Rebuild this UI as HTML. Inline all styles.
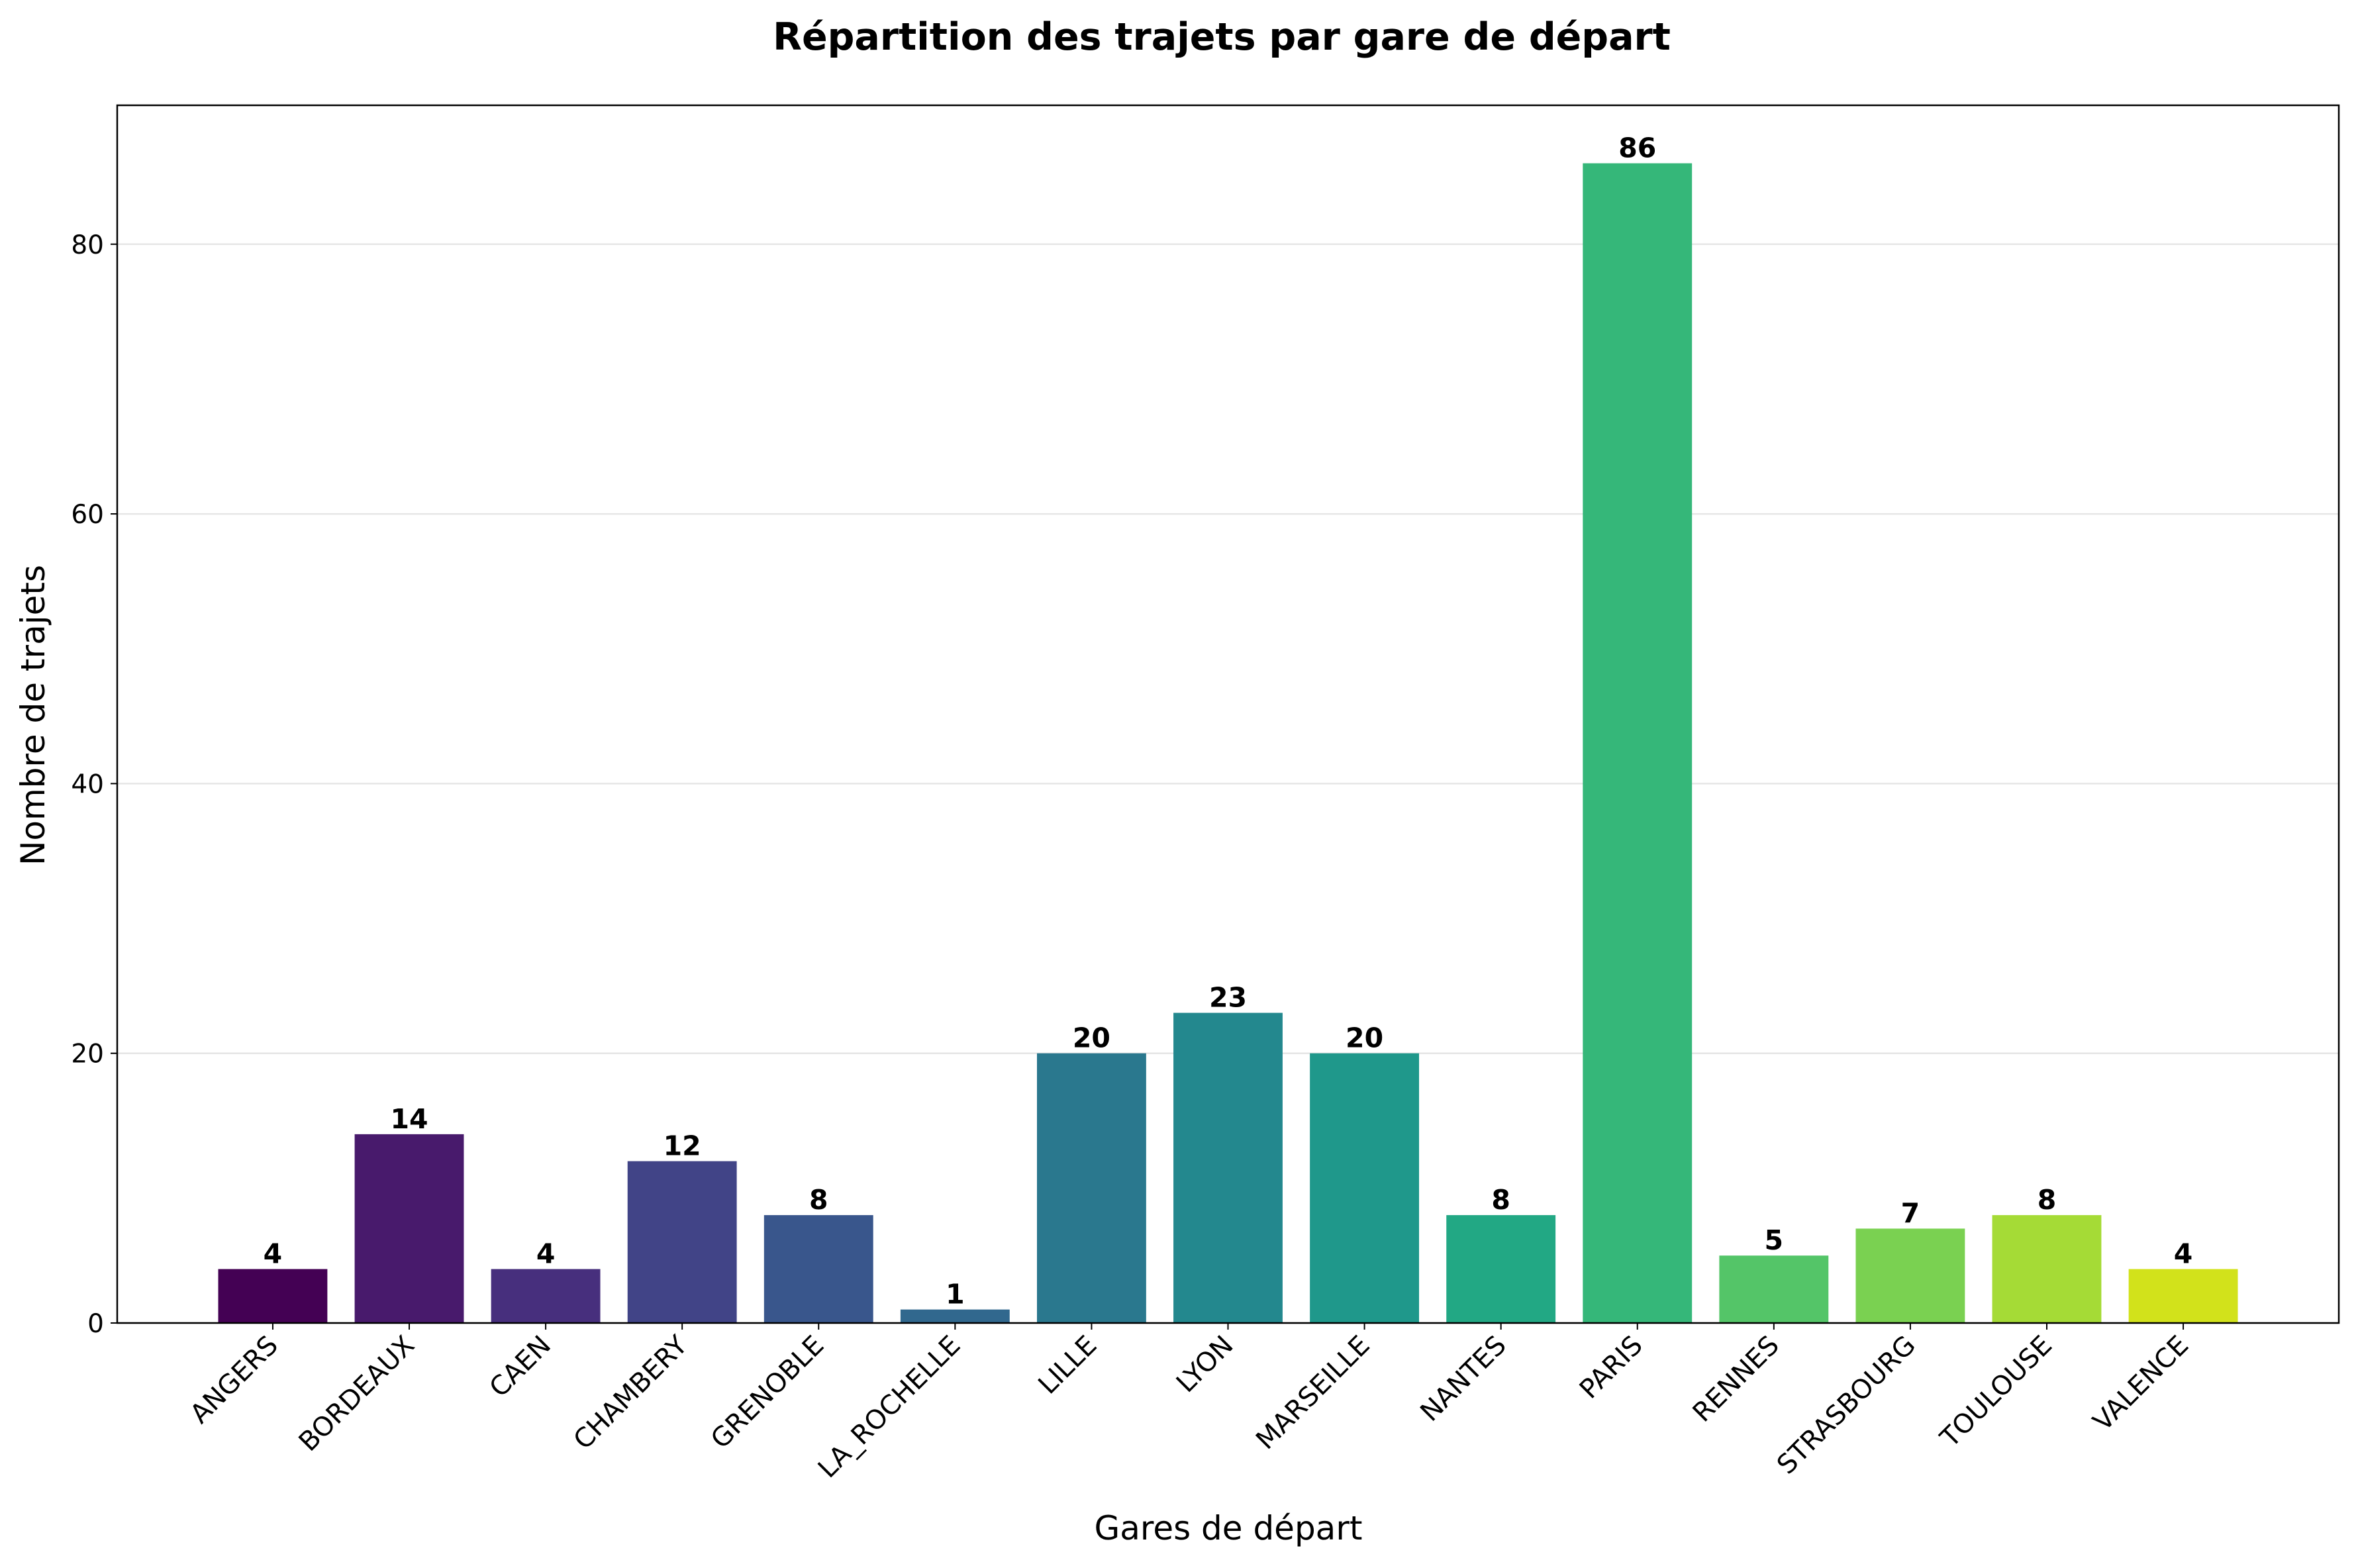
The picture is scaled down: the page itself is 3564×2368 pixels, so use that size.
<!DOCTYPE html>
<html><head><meta charset="utf-8"><style>
body{margin:0;background:#fff;}
svg text{font-family:"DejaVu Sans","Liberation Sans",sans-serif;}
</style></head><body>
<svg id="chart" width="3564" height="2363" xmlns="http://www.w3.org/2000/svg">
<rect width="3564" height="2363" fill="#fff"/>
<text x="1845" y="75" font-size="57" font-weight="bold" text-anchor="middle">Répartition des trajets par gare de départ</text>
<g id="grid"></g>
<g id="bars"></g>
<g id="axes"></g>
<text x="1855" y="2325" font-size="50" text-anchor="middle">Gares de départ</text>
<text transform="translate(67,1080) rotate(-90)" font-size="50" text-anchor="middle">Nombre de trajets</text>
</svg>
<script>
const categories=["ANGERS","BORDEAUX","CAEN","CHAMBERY","GRENOBLE","LA_ROCHELLE","LILLE","LYON","MARSEILLE","NANTES","PARIS","RENNES","STRASBOURG","TOULOUSE","VALENCE"];
const values=[4,14,4,12,8,1,20,23,20,8,86,5,7,8,4];
const yTicks=[0,20,40,60,80];
const colors=["#440154","#481a6c","#472f7d","#414487","#39568c","#31688e","#2a788e","#23888e","#1f988b","#22a884","#35b779","#54c568","#7ad151","#a5db36","#d2e21b"];
const L=177,T=159,W=3355,H=1839;
const yMax=Math.max(...values)*1.05;
const n=categories.length;
const x0=-0.4-0.05*(n-1+0.8),x1=n-1+0.4+0.05*(n-1+0.8);
const xs=v=>L+(v-x0)/(x1-x0)*W;
const ys=v=>T+H-v/yMax*H;
const NS="http://www.w3.org/2000/svg";
function mk(tag,attrs,parent,text){const e=document.createElementNS(NS,tag);for(const k in attrs)e.setAttribute(k,attrs[k]);if(text!==undefined)e.textContent=text;parent.appendChild(e);return e;}
const grid=document.getElementById('grid'),bars=document.getElementById('bars'),axes=document.getElementById('axes');
yTicks.forEach(t=>{
 const g=mk('line',{x1:L,x2:L+W,y1:ys(t),y2:ys(t),stroke:"#e6e6e6","stroke-width":2.5},grid);
 
 
 const tk=mk('line',{x1:L-10,x2:L,y1:ys(t),y2:ys(t),stroke:"#000","stroke-width":2},axes);
 
 
 const lb=mk('text',{x:L-20,y:ys(t)+14,"font-size":39,"text-anchor":"end"},axes,String(t));
 
 
});
categories.forEach((c,i)=>{
 const v=values[i];
 const bx=xs(i-0.4),bw=xs(i+0.4)-xs(i-0.4);
 const r=mk('rect',{x:bx,y:ys(v),width:bw,height:ys(0)-ys(v),fill:colors[i]},bars);
 
 
 const vl=mk('text',{x:xs(i),y:ys(v)-9,"font-size":41,"font-weight":"bold","text-anchor":"middle"},bars,String(v));
 
 
 const tk=mk('line',{x1:xs(i),x2:xs(i),y1:T+H,y2:T+H+10,stroke:"#000","stroke-width":2},axes);
 
 
 const tx=xs(i)+10,ty=T+H+36;
 const lb=mk('text',{x:tx,y:ty,"font-size":40,"text-anchor":"end",transform:`rotate(-45 ${tx} ${ty})`},axes,c);
 
 
});
const fr=mk('rect',{x:L,y:T,width:W,height:H,fill:"none",stroke:"#000","stroke-width":2.5},axes);


</script>
</body></html>
